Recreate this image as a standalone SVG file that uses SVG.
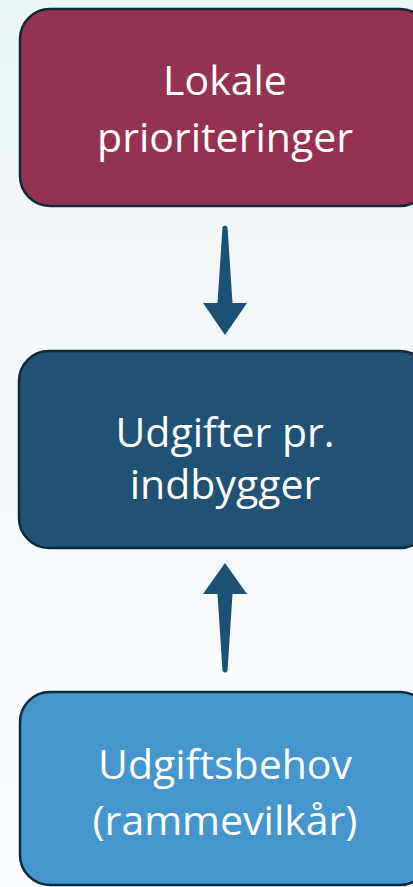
<svg xmlns="http://www.w3.org/2000/svg" width="413" height="887" viewBox="0 0 413 887">
  <defs>
    <linearGradient id="bg" x1="0" y1="0" x2="0" y2="1">
      <stop offset="0" stop-color="#EEF5F9"/>
      <stop offset="1" stop-color="#F9FCFE"/>
    </linearGradient>
  </defs>
  <style>
    .box { stroke: #10293A; stroke-width: 2.5; }
    .lbl { font-family: "Open Sans", "Liberation Sans", sans-serif; font-size: 41px; fill: #FFFFFF; text-anchor: middle; }
    .arrow { fill: #1B5174; }
  </style>
  <rect x="0" y="0" width="413" height="887" fill="url(#bg)"/>
  <g id="connectors">
    <path class="arrow" d="M222.5,227 Q225,224 227.5,227 L232.5,303 L247,303 L225,335 L203,303 L217.5,303 Z"/>
    <path class="arrow" d="M222.5,671 Q225,674 227.5,671 L232.5,594 L247,594 L225,563 L203,594 L217.5,594 Z"/>
  </g>
  <g id="node-lokale">
    <rect class="box" x="20" y="9" width="410" height="197" rx="30" ry="30" fill="#943252"/>
    <text class="lbl" x="225" y="95">Lokale</text>
    <text class="lbl" x="225" y="152">prioriteringer</text>
  </g>
  <g id="node-udgifter">
    <rect class="box" x="19" y="351" width="411" height="197" rx="30" ry="30" fill="#1F5275"/>
    <text class="lbl" x="225" y="447">Udgifter pr.</text>
    <text class="lbl" x="225" y="499">indbygger</text>
  </g>
  <g id="node-behov">
    <rect class="box" x="20" y="692" width="410" height="193" rx="30" ry="30" fill="#4496CC"/>
    <text class="lbl" x="225" y="779">Udgiftsbehov</text>
    <text class="lbl" x="225" y="835">(rammevilkår)</text>
  </g>
</svg>
